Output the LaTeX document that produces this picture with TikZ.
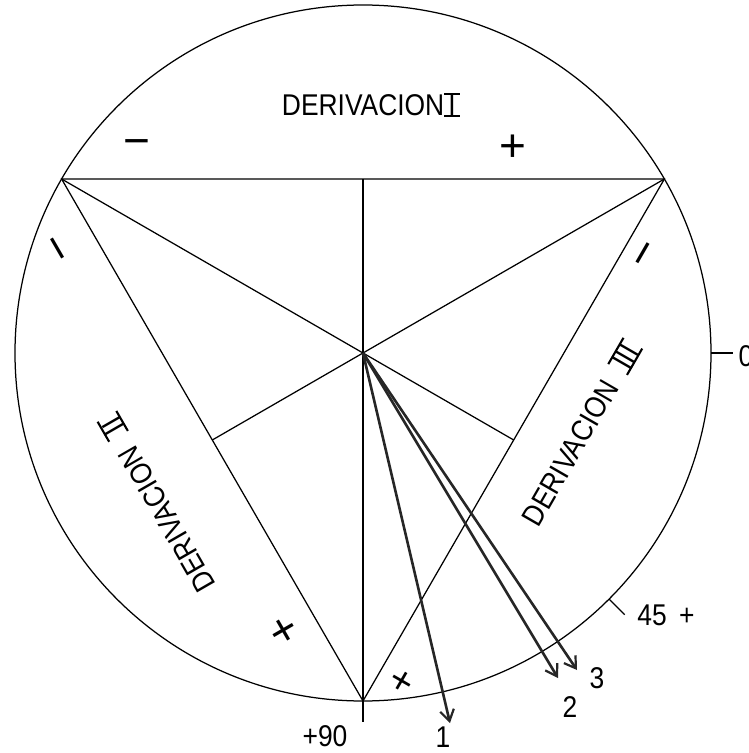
\documentclass[tikz,border=0pt]{standalone}
\usepackage{fontspec}
\setmainfont{Liberation Sans}
\newfontfamily\lettering[FakeStretch=0.88]{Liberation Sans}
\usetikzlibrary{arrows.meta}
\newcommand{\romnum}[1]{\setbox0=\hbox{\kern0.14em#1\kern0.14em}%
  \rlap{\rule[-0.03em]{\wd0}{0.07em}}\rlap{\rule[0.69em]{\wd0}{0.07em}}\box0}

\begin{document}
\begin{tikzpicture}[
  x=1pt, y=1pt, line width=1.25pt,
  vec/.style={line width=2.6pt, draw=black!85, -{Straight Barb[length=11pt,width=14pt,line width=2.2pt]}},
  sgn/.style={font=\fontsize{46}{46}\selectfont, inner sep=0pt},
  num/.style={font=\lettering\fontsize{30}{30}\selectfont, inner sep=0pt},
  deriv/.style={font=\lettering\fontsize{30}{30}\selectfont, inner sep=0pt}
]
\useasboundingbox (-363,353) rectangle (385,-400);
\coordinate (O) at (0,0);
\coordinate (A) at (150:348);
\coordinate (B) at (30:348);
\coordinate (C) at (270:348);
\coordinate (AB) at (90:174);
\coordinate (BC) at (-30:174);
\coordinate (CA) at (210:174);
\coordinate (t0a) at (0:348);
\coordinate (t0b) at (0:370);
\coordinate (t45a) at (-45:348);
\coordinate (t45b) at (-45:370);
\coordinate (t90) at (270:369);
\coordinate (v1) at (87,-370);
\coordinate (v2) at (195,-325);
\coordinate (v3) at (214,-317);
\draw (O) circle[radius=348];
\draw (A) -- (B) -- (C) -- cycle;
\draw (A) -- (BC);
\draw (B) -- (CA);
\draw (AB) -- (C) -- (t90);
\draw (t0a) -- (t0b);
\draw (t45a) -- (t45b);
\draw[vec] (O) -- (v1);
\draw[vec] (O) -- (v2);
\draw[vec] (O) -- (v3);
\node[deriv] (dI) at (8,248) {DERIVACION\romnum{I}};
\node[deriv, rotate=120] (dII) at (-206,-150) {DERIVACION\ \ \romnum{II}};
\node[deriv, rotate=60] (dIII) at (218,-80) {DERIVACION\ \ \romnum{III}};
\node[sgn] (m1) at (-226,205) {−};
\node[sgn] (p1) at (150,205) {+};
\node[sgn, rotate=120] (m2) at (-300,108) {−};
\node[sgn, rotate=120] (p2) at (-78,-277) {+};
\node[sgn, rotate=60] (m3) at (286,96) {−};
\node[sgn, rotate=60, scale=0.85] (p3) at (40,-329) {+};
\node[num] (n0) at (383,-3) {0};
\node[num] (n45) at (303,-262) {45\ \,+};
\node[num] (n90) at (-38,-383) {+90};
\node[num] (l1) at (80,-384) {1};
\node[num] (l2) at (207,-354) {2};
\node[num] (l3) at (234,-325) {3};
\end{tikzpicture}
\end{document}
